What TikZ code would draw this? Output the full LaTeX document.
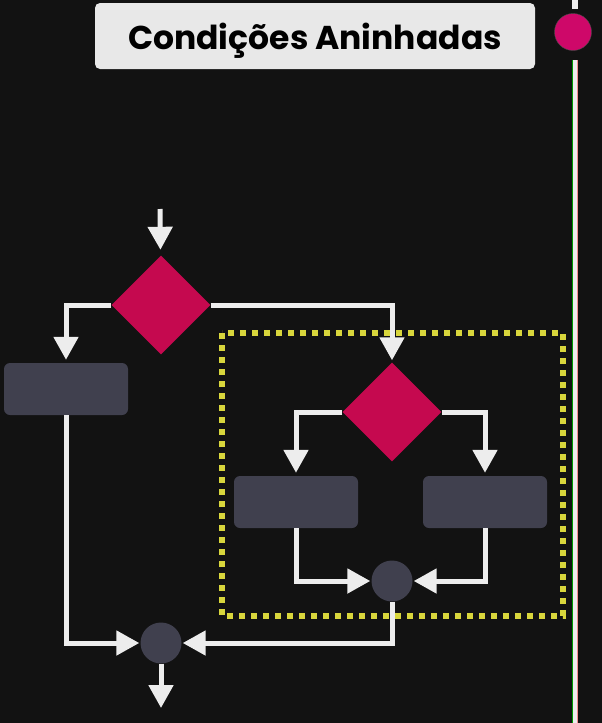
\documentclass[tikz,border=0pt]{standalone}
\usepackage{fontspec}
\newfontfamily\titlefont{Poppins}
\usetikzlibrary{arrows.meta,shapes.geometric}
\definecolor{bg}{HTML}{121212}
\definecolor{crimson}{HTML}{C5094F}
\definecolor{slate}{HTML}{40404E}
\definecolor{wire}{HTML}{EDEDED}
\definecolor{frame}{HTML}{D8D63C}
\tikzset{
  decision/.style = {diamond, fill = crimson, minimum size = 99pt, inner sep = 0pt},
  task/.style = {rectangle, rounded corners = 6pt, fill = slate, minimum width = 124pt, minimum height = 52pt},
  joint/.style = {circle, fill = slate, minimum size = 41pt, inner sep = 0pt},
  flow/.style = {draw = wire, line width = 5pt, -{Triangle[length = 23pt, width = 24pt]}, shorten > = 3pt}
}
\begin{document}
\begin{tikzpicture}[x = 1pt, y = -1pt]
    \fill[bg] (0, 0) rectangle (602, 723);
    \useasboundingbox (0, 0) rectangle (602, 723);

    % title bar
    \node (title) [rectangle, rounded corners = 5pt, fill = wire!95!gray, minimum width = 440pt, minimum height = 66pt,
                   font = \titlefont\bfseries\fontsize{33}{36}\selectfont] at (315, 36) {\raisebox{-13pt}[0pt][0pt]{Condições Aninhadas}};
    \draw[line width = 6pt, wire] (575, 0) -- (575, 9);
    \draw[line width = 6pt, wire] (575, 60) -- (575, 723);
    \draw[line width = 1pt, green!60!black] (572.5, 60) -- (572.5, 723);
    \draw[line width = 1pt, red!40!wire] (577.5, 60) -- (577.5, 723);
    \node (dot) [circle, fill = crimson!85!magenta, draw = black!70, minimum size = 37pt, inner sep = 0pt] at (573, 32) {};

    % nested block
    \draw[frame, line width = 6pt, dash pattern = on 6pt off 6pt] (222, 333) rectangle (563, 616);

    \coordinate (0) at (160, 209);
    \node (1) [decision] at (161, 305) {};
    \node (2) [task]     at ( 66, 389) {};
    \node (3) [decision] at (392, 412) {};
    \node (4) [task]     at (296, 502) {};
    \node (5) [task]     at (485, 502) {};
    \node (6) [joint]    at (392, 581) {};
    \node (7) [joint]    at (161, 643) {};
    \coordinate (8) at (161, 708);

    \draw[flow, shorten > = 6pt] (0) -- (1);
    \draw[flow] (1.west) -| (2.north);
    \draw[flow, shorten > = 2pt] (1.east) -| (3.north);
    \draw[flow] (3.west) -| (4.north);
    \draw[flow] (3.east) -| (5.north);
    \draw[flow, shorten > = 1pt] (4.south) |- (6.west);
    \draw[flow, shorten > = 1pt] (5.south) |- (6.east);
    \draw[flow, shorten > = 1pt] (2.south) |- (7.west);
    \draw[flow, shorten > = 1pt] (6.south) |- (7.east);
    \draw[flow, shorten > = 0pt] (7) -- (8);
\end{tikzpicture}
\end{document}
